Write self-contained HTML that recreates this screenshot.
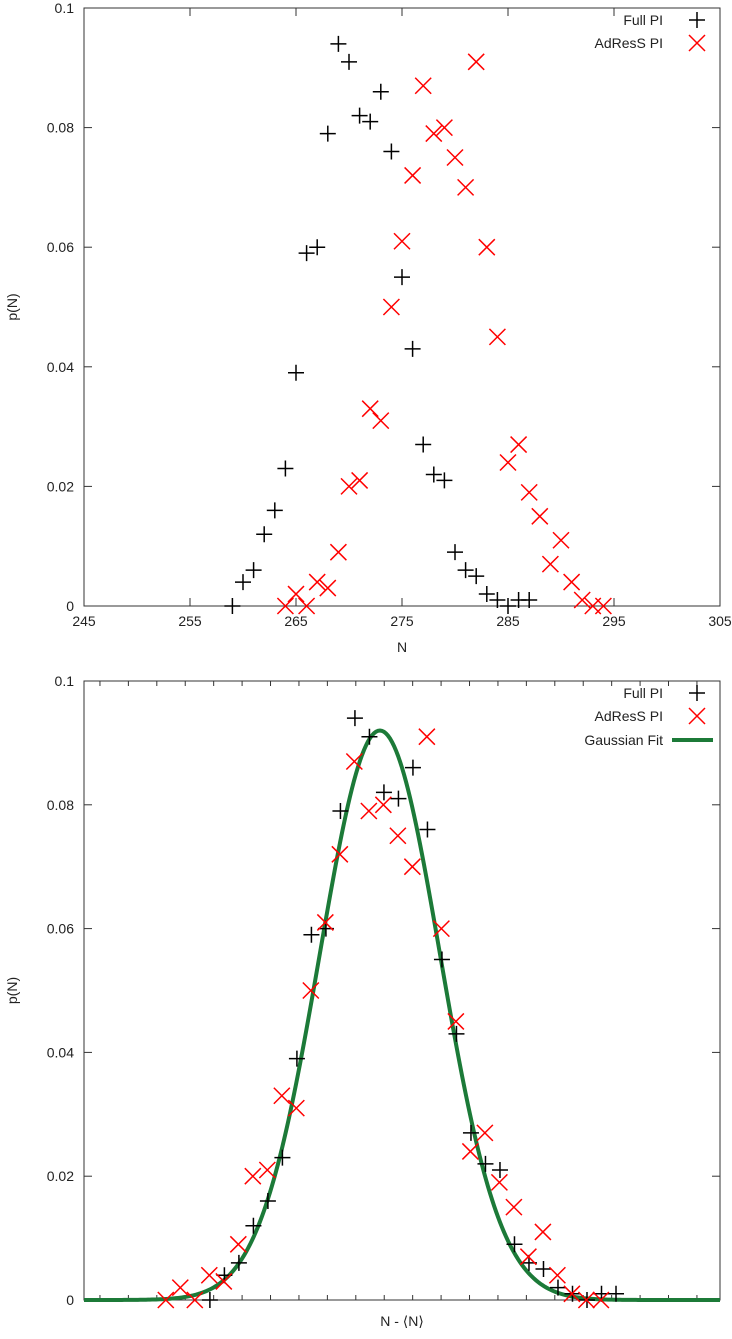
<!DOCTYPE html>
<html><head><meta charset="utf-8"><style>
html,body{margin:0;padding:0;background:#fff;}
svg text{font-family:"Liberation Sans",sans-serif;font-size:14px;fill:#222;}
</style></head><body>
<svg id="svg" width="732" height="1334" xmlns="http://www.w3.org/2000/svg"></svg>
<script>
const topN = [259,260,261,262,263,264,265,266,267,268,269,270,271,272,273,274,275,276,277,278,279,280,281,282,283,284,285,286,287];
const fullP = [0,0.004,0.006,0.012,0.016,0.023,0.039,0.059,0.060,0.079,0.094,0.091,0.082,0.081,0.086,0.076,0.055,0.043,0.027,0.022,0.021,0.009,0.006,0.005,0.002,0.001,0,0.001,0.001];
const adrN = [264,265,266,267,268,269,270,271,272,273,274,275,276,277,278,279,280,281,282,283,284,285,286,287,288,289,290,291,292,293,294];
const adrP = [0,0.002,0,0.004,0.003,0.009,0.020,0.021,0.033,0.031,0.050,0.061,0.072,0.087,0.079,0.080,0.075,0.070,0.091,0.060,0.045,0.024,0.027,0.019,0.015,0.007,0.011,0.004,0.001,0,0];
const xTicksTop = [245,255,265,275,285,295,305];
const yTicks = [0,0.02,0.04,0.06,0.08,0.1];
const yTickLabels = ["0","0.02","0.04","0.06","0.08","0.1"];
const fullMean = 270.72;
const adrMean = 278.76;
const fitAmp = 0.092;
const fitSigma = 4.15;

const NS="http://www.w3.org/2000/svg";
const svg=document.getElementById('svg');
function mk(tag,attrs,parent){const e=document.createElementNS(NS,tag);for(const k in attrs)e.setAttribute(k,attrs[k]);(parent||svg).appendChild(e);return e;}

function panel(P){
  const g=mk('g',{});
  
  
  const sx=v=>P.x0+(v-P.xmin)/(P.xmax-P.xmin)*(P.x1-P.x0);
  const sy=v=>P.y1-(v-0)/(0.1)*(P.y1-P.y0);
  yTicks.forEach((t,i)=>{
    const y=sy(t);
    const l1=mk('line',{x1:P.x0,x2:P.x0+8,y1:y,y2:y,stroke:'#333','stroke-width':1},g);
    
    
    mk('line',{x1:P.x1,x2:P.x1-8,y1:y,y2:y,stroke:'#333','stroke-width':1},g);
    const tx=mk('text',{x:P.x0-10,y:y+5,'text-anchor':'end'},g);
    tx.textContent=yTickLabels[i];
    
    
  });
  P.xticks.forEach((t,i)=>{
    const x=sx(t);const len=P.major?8:5;
    mk('line',{x1:x,x2:x,y1:P.y1,y2:P.y1-len,stroke:'#333','stroke-width':1},g);
    mk('line',{x1:x,x2:x,y1:P.y0,y2:P.y0+len,stroke:'#333','stroke-width':1},g);
    if(P.xlabels){const tx=mk('text',{x:x,y:P.y1+20,'text-anchor':'middle'},g);tx.textContent=P.xlabels[i];
      
      }
  });
  const fr=mk('rect',{x:P.x0,y:P.y0,width:P.x1-P.x0,height:P.y1-P.y0,fill:'none',stroke:'#333','stroke-width':1},g);
  
  
  const yl=mk('text',{x:0,y:0,transform:`translate(17,${(P.y0+P.y1)/2}) rotate(-90)`,'text-anchor':'middle'},g);
  yl.textContent='p(N)';
  
  
  const xl=mk('text',{x:(P.x0+P.x1)/2,y:P.xtitleY,'text-anchor':'middle'},g);
  
  
  if(P.fit){
    const a=mk('tspan',{},xl);a.textContent='N - ';
    const b=mk('tspan',{style:'font-family:"DejaVu Sans",sans-serif'},xl);b.textContent='\u27E8';
    const c=mk('tspan',{},xl);c.textContent='N';
    const d2=mk('tspan',{style:'font-family:"DejaVu Sans",sans-serif'},xl);d2.textContent='\u27E9';
  } else xl.textContent=P.xtitle;
  if(P.fit){
    let d='';
    for(let px=P.x0;px<=P.x1;px+=2){const v=P.xmin+(px-P.x0)/(P.x1-P.x0)*(P.xmax-P.xmin);
      const p=fitAmp*Math.exp(-v*v/(2*fitSigma*fitSigma));d+=(d?'L':'M')+px+','+sy(p).toFixed(2);}
    const fl=mk('path',{d:d,fill:'none',stroke:'#1c7a38','stroke-width':4},g);
    
    
  }
  const plus=(x,y,name)=>{const e=mk('path',{d:`M${x-8},${y}H${x+8}M${x},${y-8}V${y+8}`,stroke:'#000','stroke-width':1.5,fill:'none'},g);
    
    };
  const cross=(x,y,name)=>{const e=mk('path',{d:`M${x-8},${y-8}L${x+8},${y+8}M${x-8},${y+8}L${x+8},${y-8}`,stroke:'#f00','stroke-width':1.5,fill:'none'},g);
    
    };
  topN.forEach((n,i)=>plus(sx(n-P.fShift),sy(fullP[i]),'full-pi-point'));
  adrN.forEach((n,i)=>cross(sx(n-P.aShift),sy(adrP[i]),'adress-pi-point'));
  const ly=P.y0+12;
  const e1=mk('text',{x:663,y:ly+5,'text-anchor':'end'},g);e1.textContent='Full PI';
  
  
  plus(697,ly,'legend-full-pi-marker');
  const e2=mk('text',{x:663,y:ly+28,'text-anchor':'end'},g);e2.textContent='AdResS PI';
  
  
  cross(697,ly+23,'legend-adress-pi-marker');
  if(P.fit){
    const e3=mk('text',{x:663,y:ly+52,'text-anchor':'end'},g);e3.textContent='Gaussian Fit';
    
    
    const ll=mk('line',{x1:672,x2:713,y1:ly+47,y2:ly+47,stroke:'#1c7a38','stroke-width':4},g);
    
    
  }
}
panel({name:'top-chart',x0:84,x1:720,y0:8,y1:606,xmin:245,xmax:305,xticks:xTicksTop,xlabels:xTicksTop.map(String),major:true,xtitle:'N',xtitleY:652,fShift:0,aShift:0,fit:false});
const bt=[];for(let v=-19.3;v<23.4;v+=1.96)bt.push(v);
panel({name:'bottom-chart',x0:84,x1:720,y0:681,y1:1300,xmin:-20.4,xmax:23.45,xticks:bt,xlabels:null,major:false,xtitle:'N - <N>',xtitleY:1326,fShift:fullMean,aShift:adrMean,fit:true});
</script>
</body></html>
